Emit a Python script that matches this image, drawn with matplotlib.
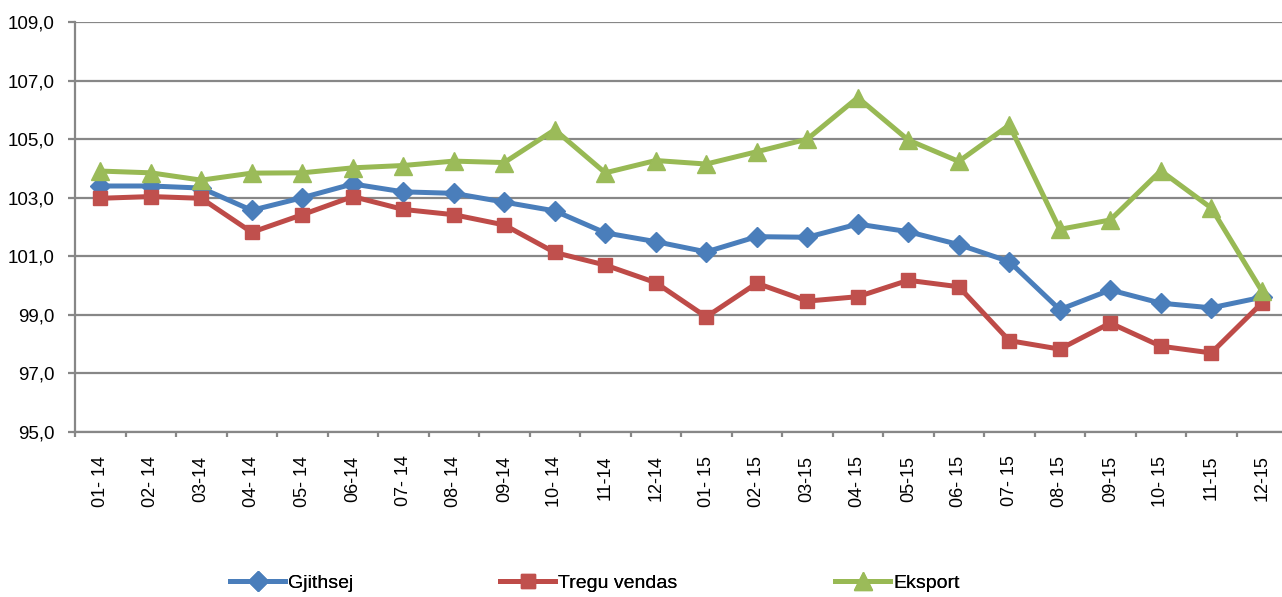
import matplotlib
matplotlib.use("Agg")
import matplotlib.pyplot as plt
from matplotlib.ticker import FixedLocator, FuncFormatter

plt.rcParams['font.family'] = ['Liberation Sans', 'DejaVu Sans']

categories = ["01- 14", "02- 14", "03-14", "04- 14", "05- 14", "06-14", "07- 14", "08- 14",
              "09-14", "10- 14", "11-14", "12-14", "01- 15", "02- 15", "03-15", "04- 15",
              "05-15", "06- 15", "07- 15", "08- 15", "09-15", "10- 15", "11-15", "12-15"]

gjithsej = [103.40, 103.40, 103.33, 102.57, 103.00, 103.47, 103.20, 103.15,
            102.85, 102.55, 101.80, 101.50, 101.15, 101.67, 101.65, 102.10,
            101.84, 101.40, 100.82, 99.18, 99.85, 99.40, 99.24, 99.60]

tregu_vendas = [102.98, 103.04, 102.98, 101.82, 102.42, 103.04, 102.60, 102.42,
                102.07, 101.13, 100.70, 100.10, 98.93, 100.08, 99.47, 99.62,
                100.18, 99.96, 98.12, 97.83, 98.72, 97.93, 97.70, 99.40]

eksport = [103.91, 103.85, 103.60, 103.84, 103.85, 104.02, 104.10, 104.25,
           104.20, 105.32, 103.85, 104.27, 104.15, 104.57, 105.00, 106.42,
           104.97, 104.24, 105.48, 101.92, 102.24, 103.92, 102.65, 99.82]

series_names = ["Gjithsej", "Tregu vendas", "Eksport"]
yticks = [95, 97, 99, 101, 103, 105, 107, 109]

W, H = 1282, 597
fig = plt.figure(figsize=(W / 100, H / 100), dpi=100)
ax = fig.add_axes([75 / W, (H - 432) / H, (1287 - 75) / W, 410 / H])

x = list(range(len(categories)))
grid_c = '#878787'

styles = [
    dict(color='#4A7EBB', marker='D', ms=10.5, mfc='#4A7EBB', mec='#4A7EBB'),
    dict(color='#BE4B48', marker='s', ms=10, mfc='#C0504D', mec='#C0504D'),
    dict(color='#98B954', marker='^', ms=13, mfc='#9BBB59', mec='#9BBB59'),
]
handles = []
for vals, name, st in zip([gjithsej, tregu_vendas, eksport], series_names, styles):
    ln, = ax.plot(x, vals, lw=3.6, label=name, zorder=3, **st)
    handles.append(ln)

ax.set_xlim(-0.5, len(categories) - 0.5)
ax.set_ylim(95, 109)

ax.yaxis.set_major_locator(FixedLocator(yticks))
ax.yaxis.set_major_formatter(FuncFormatter(lambda v, p: f"{v:.1f}".replace('.', ',')))
ax.grid(axis='y', color=grid_c, lw=1.6, zorder=0)
ax.set_axisbelow(True)

ax.set_xticks(x)
ax.set_xticklabels(categories, rotation=90, va='top', ha='center')
ax.set_xticks([i - 0.5 for i in range(len(categories) + 1)], minor=True)
ax.tick_params(axis='x', which='major', length=0, pad=17, labelsize=13)
ax.tick_params(axis='x', which='minor', length=3.6, width=1.6, color=grid_c, direction='out')
ax.tick_params(axis='y', which='major', length=5, width=1.6, color=grid_c, pad=10, labelsize=13.5)

for s in ['top', 'right']:
    ax.spines[s].set_visible(False)
for s in ['left', 'bottom']:
    ax.spines[s].set_color(grid_c)
    ax.spines[s].set_linewidth(1.6)

leg_x = [230, 500, 835]
for h, lx in zip(handles, leg_x):
    lg = fig.legend(handles=[h], loc='center left', bbox_to_anchor=(lx / W, 1 - 583 / H),
                    frameon=False, fontsize=14, handlelength=2.83, handletextpad=0.15,
                    borderaxespad=0, borderpad=0)
    fig.add_artist(lg)

fig.savefig("out.png", dpi=100)
